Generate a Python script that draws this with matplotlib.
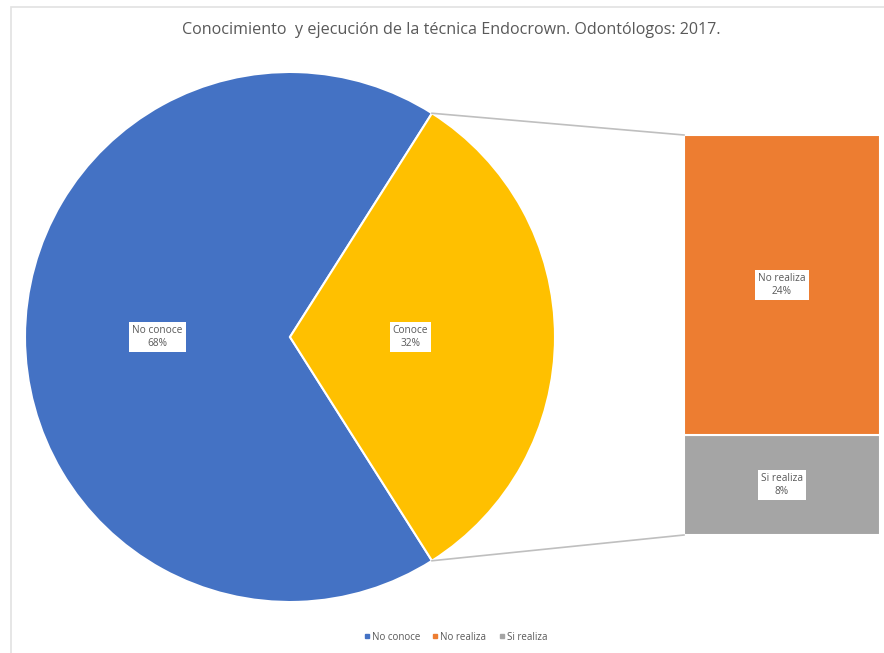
import numpy as np
import matplotlib.pyplot as plt
from matplotlib.patches import Rectangle

# pie: knowledge of the technique
pie_labels = ['No conoce', 'Conoce']
pie_values = [68, 32]
pie_colors = ['#4472C4', '#FFC000']

# bar: among those who know it, do they perform it
bar_labels = ['No realiza', 'Si realiza']
bar_values = [24, 8]
bar_colors = ['#ED7D31', '#A5A5A5']

title = 'Conocimiento  y ejecución de la técnica Endocrown. Odontólogos: 2017.'

W, H = 884, 653
plt.rcParams['font.family'] = ['Open Sans', 'DejaVu Sans']
text_gray = '#595959'

fig = plt.figure(figsize=(W / 100, H / 100), dpi=100)
ax = fig.add_axes([0, 0, 1, 1])
ax.set_xlim(0, W)
ax.set_ylim(0, H)
ax.set_aspect('equal')
ax.axis('off')

# faint chart-area frame
ax.add_patch(Rectangle((11, -5), W, H - 7 + 5, fill=False, ec='#e2e2e2', lw=1.2))

# pie (pixel coordinates, y up)
cx, cy, r = 290, H - 337, 265
other_share = pie_values[1] / sum(pie_values)
half = other_share * 360 / 2
wedges, _ = ax.pie(pie_values, colors=pie_colors, center=(cx, cy), radius=r,
                   startangle=half, counterclock=True,
                   wedgeprops=dict(edgecolor='white', linewidth=1.5))
ax.set_xlim(0, W)
ax.set_ylim(0, H)

box = dict(boxstyle='square,pad=0.3', fc='white', ec='none')
lab_pos = [(cx - 0.50 * r, cy), (cx + 0.455 * r, cy)]
for (x, y), lab, v in zip(lab_pos, pie_labels, pie_values):
    ax.text(x, y, f'{lab}\n{v}%', ha='center', va='center', fontsize=7.3,
            color=text_gray, bbox=box, linespacing=1.3)

# stacked bar for the split of "Conoce"
bx, bw = 782, 196
bar_bottom = H - 535
px_per_pct = 400 / sum(bar_values)
bottom = bar_bottom
for lab, v, c in reversed(list(zip(bar_labels, bar_values, bar_colors))):
    h = v * px_per_pct
    ax.bar(bx, h, width=bw, bottom=bottom, color=c, edgecolor='white', linewidth=1.5)
    ax.text(bx, bottom + h / 2, f'{lab}\n{v}%', ha='center', va='center',
            fontsize=7.3, color=text_gray, bbox=box, linespacing=1.3)
    bottom += h
bar_top = bottom

# connector lines from the pie wedge edges to the bar corners
a = np.deg2rad(half)
top_pt = (cx + r * np.cos(a), cy + r * np.sin(a))
bot_pt = (cx + r * np.cos(a), cy - r * np.sin(a))
ax.plot([top_pt[0], bx - bw / 2], [top_pt[1], bar_top], color='#bfbfbf', lw=1.2)
ax.plot([bot_pt[0], bx - bw / 2], [bot_pt[1], bar_bottom], color='#bfbfbf', lw=1.2)

ax.text(451, H - 30, title, ha='center', va='center', fontsize=11.6, color=text_gray)

# legend
leg_items = [(pie_labels[0], pie_colors[0]), (bar_labels[0], bar_colors[0]),
             (bar_labels[1], bar_colors[1])]
handles = [plt.Line2D([], [], marker='s', ls='none', color=c, markersize=3.5)
           for _, c in leg_items]
fig.legend(handles, [l for l, _ in leg_items], loc='center', bbox_to_anchor=(455 / W, 1 - 637 / H),
           ncol=3, frameon=False, fontsize=7, labelcolor=text_gray,
           handletextpad=0.1, columnspacing=1.2, handlelength=0.8)

fig.savefig('out.png', dpi=100)
